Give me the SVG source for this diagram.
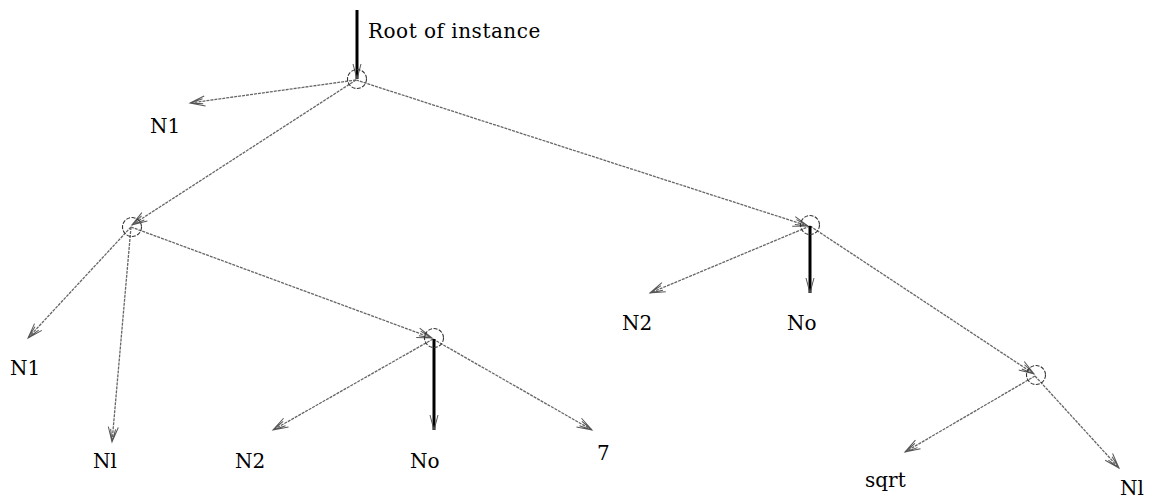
<svg xmlns="http://www.w3.org/2000/svg" width="1151" height="504" viewBox="0 0 1151 504">
<defs>
<marker id="ah" markerUnits="userSpaceOnUse" markerWidth="20" markerHeight="14" refX="16" refY="6" orient="auto" viewBox="0 0 20 12">
<path d="M1,1 L16,6 L1,11 M3,3.5 L16,6 L3,8.5" fill="none" stroke="#555" stroke-width="1"/>
</marker>
<marker id="ahk" markerUnits="userSpaceOnUse" markerWidth="20" markerHeight="14" refX="16" refY="6" orient="auto" viewBox="0 0 20 12">
<path d="M1,2 L16,6 L1,10" fill="none" stroke="#555" stroke-width="1"/>
</marker>
</defs>
<style>
.e{stroke:#666;stroke-width:1.3;stroke-dasharray:3 1;fill:none;marker-end:url(#ah)}
.t{stroke:#000;stroke-width:3;fill:none;marker-end:url(#ahk)}
.c{fill:none;stroke:#333;stroke-width:1.1;stroke-dasharray:4 1.5}
.lb{font-family:'DejaVu Serif','Liberation Serif',serif;font-size:20px;fill:#000}
</style>
<rect width="1151" height="504" fill="#fff"/>
<g id="connectors">
<line class="e" x1="356" y1="80" x2="190" y2="103"/>
<line class="e" x1="356" y1="80" x2="132" y2="225"/>
<line class="e" x1="356" y1="80" x2="808" y2="226"/>
<line class="e" x1="131" y1="227" x2="28" y2="338"/>
<line class="e" x1="131" y1="227" x2="112" y2="442"/>
<line class="e" x1="131" y1="227" x2="432" y2="338"/>
<line class="e" x1="433" y1="339" x2="273" y2="430"/>
<line class="e" x1="433" y1="339" x2="592" y2="430"/>
<line class="e" x1="810" y1="226" x2="650" y2="293"/>
<line class="e" x1="810" y1="226" x2="1034" y2="374"/>
<line class="e" x1="1035" y1="376" x2="905" y2="452"/>
<line class="e" x1="1035" y1="376" x2="1119" y2="468"/>
<line class="t" x1="357" y1="10" x2="357" y2="79"/>
<line class="t" x1="434" y1="339" x2="434" y2="430"/>
<line class="t" x1="810" y1="226" x2="810" y2="293"/>
</g>
<g id="root"><circle class="c" cx="357" cy="79" r="9.5"/><text class="lb" x="368" y="38" letter-spacing="0.5">Root of instance</text></g>
<g id="nA"><circle class="c" cx="132" cy="227" r="9.5"/></g>
<g id="nB"><circle class="c" cx="810" cy="225" r="9.5"/></g>
<g id="nC"><circle class="c" cx="434" cy="338" r="9.5"/></g>
<g id="nD"><circle class="c" cx="1036" cy="375" r="9.5"/></g>
<g id="l1"><text class="lb" x="150" y="133">N1</text></g>
<g id="l2"><text class="lb" x="10" y="375">N1</text></g>
<g id="l3"><text class="lb" x="93" y="468">Nl</text></g>
<g id="l4"><text class="lb" x="235" y="468">N2</text></g>
<g id="l5"><text class="lb" x="410" y="468">No</text></g>
<g id="l6"><text class="lb" x="597" y="460">7</text></g>
<g id="l7"><text class="lb" x="622" y="330">N2</text></g>
<g id="l8"><text class="lb" x="787" y="330">No</text></g>
<g id="l9"><text class="lb" x="865" y="487">sqrt</text></g>
<g id="l10"><text class="lb" x="1120" y="495">Nl</text></g>
</svg>
